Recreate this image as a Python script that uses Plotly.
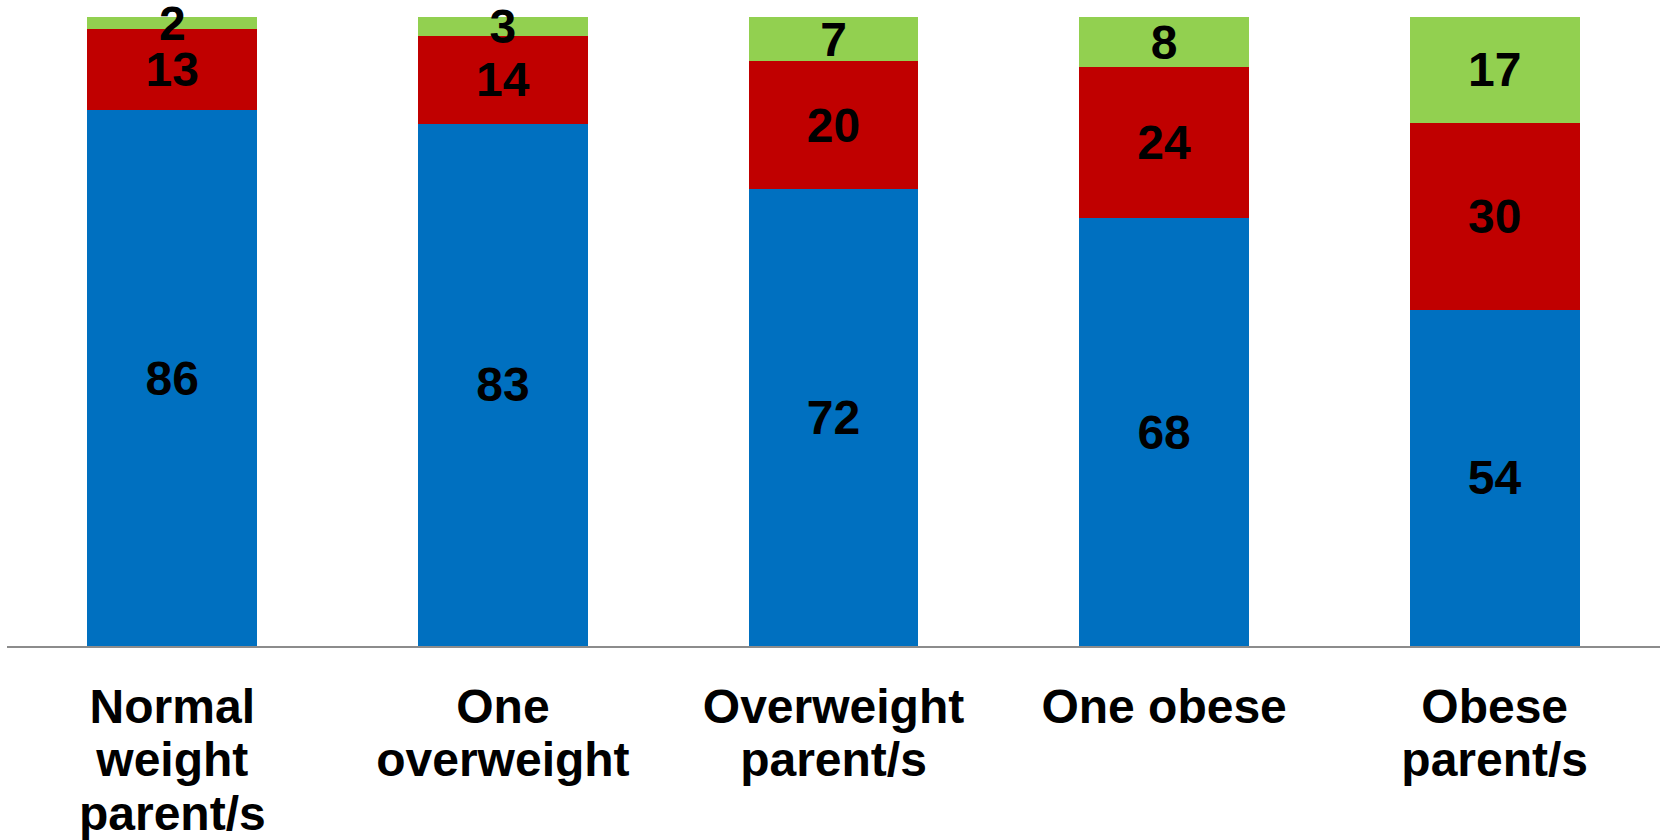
import plotly.graph_objects as go

categories = ["Normal weight parent/s", "One overweight", "Overweight parent/s", "One obese", "Obese parent/s"]
label_line1 = ["Normal", "One", "Overweight", "One obese", "Obese"]
label_line2 = ["weight", "overweight", "parent/s", "", "parent/s"]
label_line3 = ["parent/s", "", "", "", ""]
blue_vals = [86, 83, 72, 68, 54]
red_vals = [13, 14, 20, 24, 30]
green_vals = [2, 3, 7, 8, 17]

series = [
    ("Blue", blue_vals, "#0070C0"),
    ("Red", red_vals, "#C00000"),
    ("Green", green_vals, "#92D050"),
]

positions = list(range(len(categories)))
FONT = "Liberation Sans, Arial"

fig = go.Figure()
for name, vals, color in series:
    fig.add_trace(go.Bar(
        x=positions, y=vals, name=name,
        customdata=categories,
        marker=dict(color=color, line=dict(width=0)),
        text=[str(v) for v in vals],
        textposition="inside",
        insidetextanchor="middle",
        textangle=0,
        constraintext="none",
        cliponaxis=False,
        textfont=dict(family=FONT, size=48, color="black", weight="bold"),
        width=0.514,
    ))

# invisible helper traces so the extra label rows (axes x2, x3) are drawn
for ax in ("x2", "x3"):
    fig.add_trace(go.Scatter(
        x=positions, y=[0] * len(positions), xaxis=ax, yaxis="y",
        mode="markers", marker=dict(opacity=0, size=1),
        hoverinfo="skip", showlegend=False,
    ))

fig.update_layout(
    barmode="stack",
    barnorm="percent",
    width=1663, height=840,
    margin=dict(l=7, r=3, t=17, b=194),
    paper_bgcolor="white", plot_bgcolor="white",
    showlegend=False,
    uniformtext=dict(minsize=48, mode="show"),
    font=dict(family=FONT, color="black"),
)

tickfont = dict(family=FONT, size=48, color="black", weight="bold")
xr = [-0.5, len(categories) - 0.5]
fig.update_layout(
    xaxis=dict(
        range=xr, showline=True, linecolor="#8C8C8C", linewidth=2,
        showgrid=False, zeroline=False, ticks="",
        tickmode="array", tickvals=positions, ticktext=label_line1,
        tickfont=tickfont, ticklabelstandoff=17, automargin=False,
    ),
    xaxis2=dict(
        range=xr, overlaying="x", anchor="y", side="bottom",
        showline=False, showgrid=False, zeroline=False, ticks="",
        tickmode="array", tickvals=positions, ticktext=label_line2,
        tickfont=tickfont, ticklabelstandoff=81, automargin=False,
    ),
    xaxis3=dict(
        range=xr, overlaying="x", anchor="y", side="bottom",
        showline=False, showgrid=False, zeroline=False, ticks="",
        tickmode="array", tickvals=positions, ticktext=label_line3,
        tickfont=tickfont, ticklabelstandoff=135, automargin=False,
    ),
    yaxis=dict(range=[0, 100.001], showticklabels=False, showgrid=False,
               zeroline=False, showline=False, automargin=False),
)

fig.write_html("out.html")
